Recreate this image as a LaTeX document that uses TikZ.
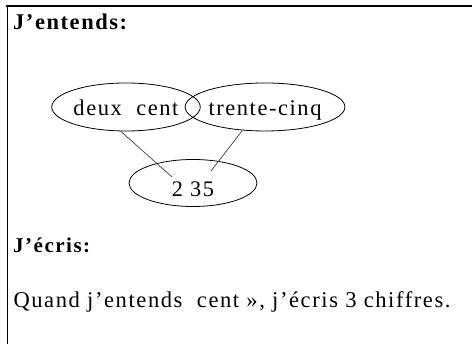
\documentclass[tikz,border=0pt]{standalone}
\usepackage{fontspec}
\setmainfont{Liberation Serif}[LetterSpace=7]
\usetikzlibrary{shapes.geometric,calc}
% set a line of text at a fixed printed width
\newcommand{\fitto}[2]{\resizebox{#1}{!}{\fontsize{22}{26}\selectfont #2}}
% bubble label whose baseline sits #1 below the bubble centre
\newcommand{\lowered}[2]{\raisebox{-#1}[0pt][0pt]{#2}}
\tikzset{
  bubble/.style={draw, ellipse, line width=0.8pt, inner sep=0pt},
  link/.style={line width=0.7pt, draw=black!75},
  heading/.style={anchor=base west, inner sep=0pt, font=\bfseries},
  plain/.style={anchor=base west, inner sep=0pt}
}
\begin{document}
\begin{tikzpicture}[x=1pt,y=1pt]
  \useasboundingbox (0,0) rectangle (472,344);
  % frame: top and left edges only
  \draw[line width=2pt] (6.3,338) -- (472,338);
  \draw[line width=1.3pt] (7.3,338.5) -- (7.3,0);

  \node[heading] (entends) at (13,314) {\fitto{114pt}{\bfseries J’entends:}};

  \node[bubble, minimum width=128pt, minimum height=48pt] (deux) at (126,237)
    {\lowered{8.5pt}{\fitto{105pt}{deux\ \ cent}}};
  \node[bubble, minimum width=140pt, minimum height=48pt] (trente) at (265,237)
    {\lowered{8.5pt}{\fitto{113pt}{trente-cinq}}};
  \node[bubble, minimum width=128pt, minimum height=47pt] (total) at (193,161)
    {\lowered{14pt}{\fitto{42pt}{2 35}}};

  \coordinate (hit1) at ($(total.center)+(-21,6)$);
  \coordinate (hit2) at ($(total.center)+(18,12)$);
  \draw[link] (deux.-102) -- (hit1);
  \draw[link] (trente.-134) -- (hit2);

  \node[heading] (ecris) at (13,91) {\fitto{77pt}{\bfseries J’écris:}};
  \node[plain] (regle) at (13.3,36.5) {\fitto{437pt}{Quand j’entends\ \ cent », j’écris 3 chiffres.}};
\end{tikzpicture}
\end{document}
